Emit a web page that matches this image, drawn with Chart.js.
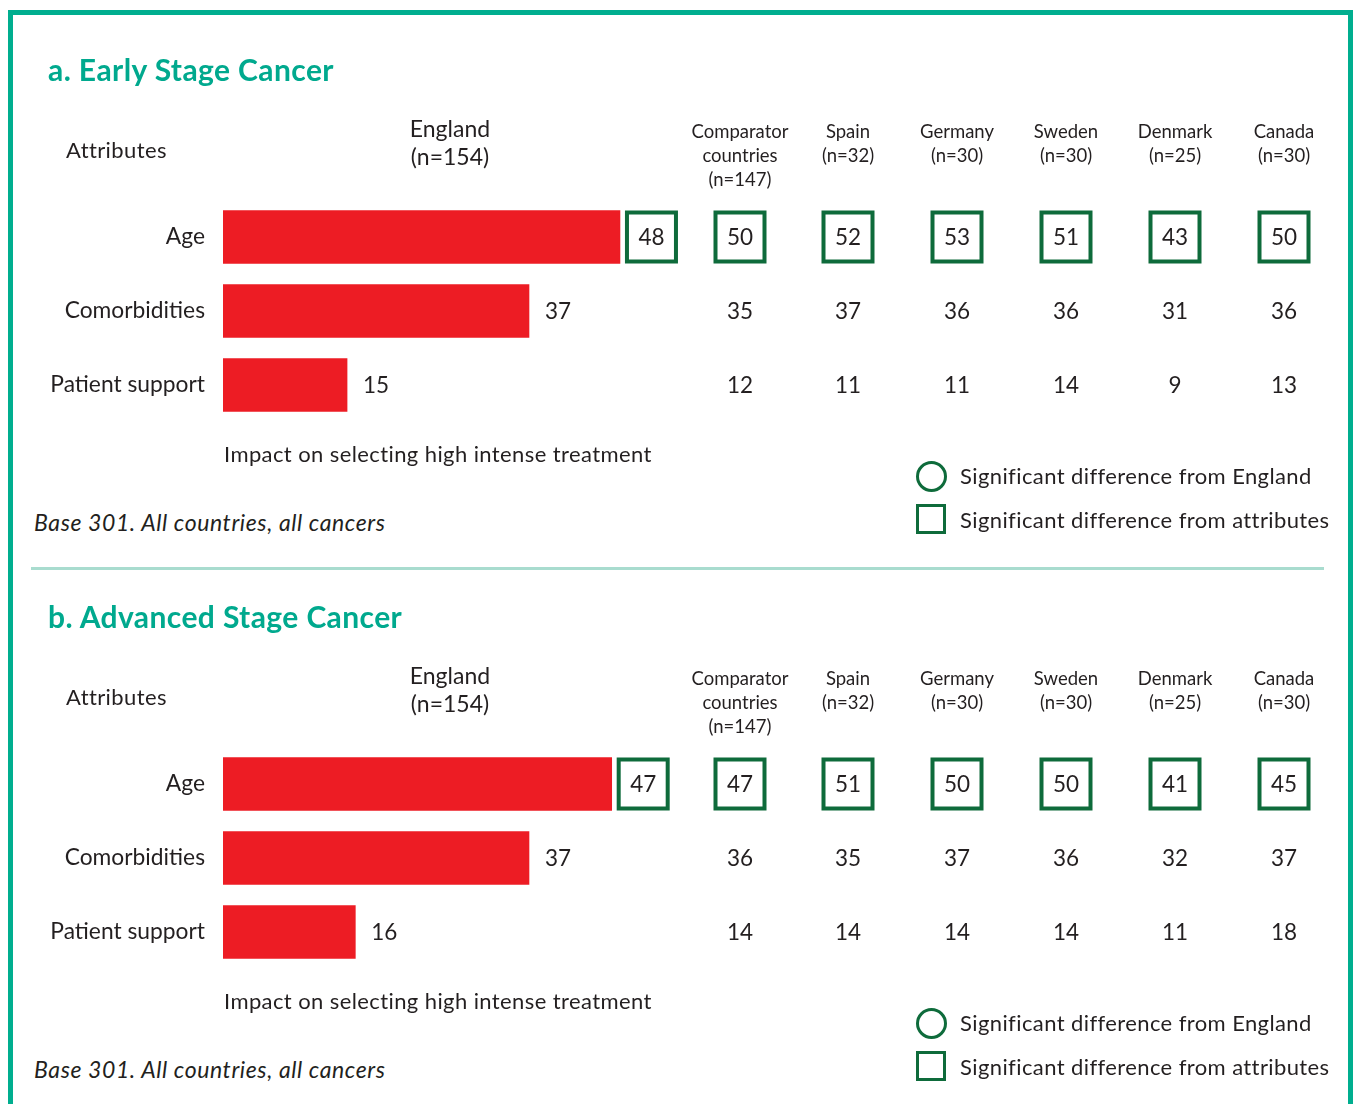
<!DOCTYPE html>
<html>
<head>
<meta charset="utf-8">
<script src="https://cdn.jsdelivr.net/npm/chart.js@4.4.1/dist/chart.umd.min.js"></script>
<style>
	html, body { margin: 0; padding: 0; background: #fff; overflow: hidden; }
	body { width: 1354px; height: 1104px; position: relative; font-family: Lato, 'Noto Sans', sans-serif; color: #231F20; }
	.frame { position: absolute; left: 8px; top: 10px; width: 1335px; height: 1200px; border: 5px solid #00AE8F; }
	.t { position: absolute; white-space: nowrap; line-height: 1; }
	.title { font-size: 30px; font-weight: bold; color: #00A98E; letter-spacing: 0.4px; }
	.lbl { font-size: 22px; letter-spacing: 0.4px; }
	.hdr { font-size: 18.5px; text-align: center; line-height: 24px; }
	.eng { font-size: 23px; text-align: center; line-height: 28px; }
	.it { font-style: italic; font-size: 23px; letter-spacing: 0.6px; }
	.sep { position: absolute; left: 31px; width: 1293px; top: 567px; height: 3px; background: #A9DCCF; }
	.circ { position: absolute; width: 25px; height: 25px; border: 3px solid #0E6B3B; border-radius: 50%; }
	.sq { position: absolute; width: 24px; height: 24px; border: 3px solid #0E6B3B; }
	canvas { position: absolute; left: 0; }
</style>
</head>
<body>
<div class="frame"></div>
<div class="sep"></div>
<canvas id="earlyChart" width="1354" height="500" style="top:0px"></canvas>
<canvas id="advChart" width="1354" height="500" style="top:547px"></canvas>
<script>
// 데이터
const attributes = ['Age', 'Comorbidities', 'Patient support'];
const countryHeaders = [
	['Comparator', 'countries', '(n=147)'],
	['Spain', '(n=32)'],
	['Germany', '(n=30)'],
	['Sweden', '(n=30)'],
	['Denmark', '(n=25)'],
	['Canada', '(n=30)']
];
const columnX = [740, 848, 957, 1066, 1175, 1284];

const earlyEngland = [48, 37, 15];
const earlyCountries = [
	[50, 35, 12],
	[52, 37, 11],
	[53, 36, 11],
	[51, 36, 14],
	[43, 31, 9],
	[50, 36, 13]
];
const earlyBoxed = [true, false, false];

const advEngland = [47, 37, 16];
const advCountries = [
	[47, 36, 14],
	[51, 35, 14],
	[50, 37, 14],
	[50, 36, 14],
	[41, 32, 11],
	[45, 37, 18]
];
const advBoxed = [true, false, false];

const TEXT = '#231F20';
const GREEN = '#0E6B3B';
const FONT = "Lato, 'Noto Sans', sans-serif";

function addText(cls, txt, left, top, extra) {
	const d = document.createElement('div');
	d.className = 't ' + cls;
	d.innerHTML = txt;
	d.style.left = left + 'px';
	d.style.top = top + 'px';
	if (extra) Object.assign(d.style, extra);
	document.body.appendChild(d);
	return d;
}

function drawPanel(off, title) {
	addText('title', title, 48, off + 54);
	addText('lbl', 'Attributes', 66, off + 139);
	addText('eng', 'England<br>(n=154)', 390, off + 114, { width: '120px' });
	countryHeaders.forEach((h, i) => {
		addText('hdr', h.join('<br>'), columnX[i] - 70, off + 119, { width: '140px' });
	});
	addText('lbl', 'Impact on selecting high intense treatment', 224, off + 443);
	addText('it', 'Base 301. All countries, all cancers', 34, off + 511);

	const c = document.createElement('div');
	c.className = 'circ';
	c.style.left = '916px';
	c.style.top = (off + 461) + 'px';
	document.body.appendChild(c);
	addText('lbl', 'Significant difference from England', 960, off + 465);

	const s = document.createElement('div');
	s.className = 'sq';
	s.style.left = '916px';
	s.style.top = (off + 504) + 'px';
	document.body.appendChild(s);
	addText('lbl', 'Significant difference from attributes', 960, off + 509);
}

function boxAt(ctx, cx, cy) {
	ctx.save();
	ctx.strokeStyle = GREEN;
	ctx.lineWidth = 4;
	ctx.strokeRect(cx - 24.5, cy - 24.5, 49, 49);
	ctx.restore();
}

// 값 라벨 + 국가별 열
const tablePlugin = {
	id: 'tablePlugin',
	afterDatasetsDraw(chart, args, opts) {
		const ctx = chart.ctx;
		const xs = chart.scales.x;
		const ys = chart.scales.y;
		ctx.save();
		ctx.font = '22.5px ' + FONT;
		ctx.fillStyle = TEXT;
		ctx.textBaseline = 'middle';
		opts.england.forEach((v, i) => {
			const y = ys.getPixelForValue(i);
			const xEnd = xs.getPixelForValue(v);
			if (opts.boxed[i]) {
				const cx = xEnd + 5 + 26.5;
				boxAt(ctx, cx, y);
				ctx.textAlign = 'center';
				ctx.fillText(String(v), cx, y + 1);
			} else {
				ctx.textAlign = 'left';
				ctx.fillText(String(v), xEnd + 16, y + 1);
			}
		});
		opts.countries.forEach((col, ci) => {
			col.forEach((v, i) => {
				const y = ys.getPixelForValue(i);
				if (opts.boxed[i]) boxAt(ctx, columnX[ci], y);
				ctx.textAlign = 'center';
				ctx.fillText(String(v), columnX[ci], y + 1);
			});
		});
		ctx.restore();
	}
};

function buildChart(id, england, countries, boxed) {
	return new Chart(document.getElementById(id), {
		type: 'bar',
		data: {
			labels: attributes,
			datasets: [{
				data: england,
				backgroundColor: '#ED1C24',
				borderWidth: 0,
				barThickness: 53
			}]
		},
		options: {
			responsive: false,
			animation: false,
			indexAxis: 'y',
			layout: { padding: { left: 0, right: 304, top: 200, bottom: 78 } },
			scales: {
				x: { display: false, min: 0, max: 100 },
				y: {
					grid: { display: false, drawTicks: false },
					border: { display: false },
					ticks: { color: TEXT, font: { size: 22.8, family: FONT }, padding: 18 },
					afterFit: function(scale) { scale.width = 223; }
				}
			},
			plugins: {
				legend: { display: false },
				tooltip: { enabled: false },
				tablePlugin: { england: england, countries: countries, boxed: boxed }
			}
		},
		plugins: [tablePlugin]
	});
}

drawPanel(0, 'a. Early Stage Cancer');
drawPanel(547, 'b. Advanced Stage Cancer');
buildChart('earlyChart', earlyEngland, earlyCountries, earlyBoxed);
buildChart('advChart', advEngland, advCountries, advBoxed);
</script>
</body>
</html>
